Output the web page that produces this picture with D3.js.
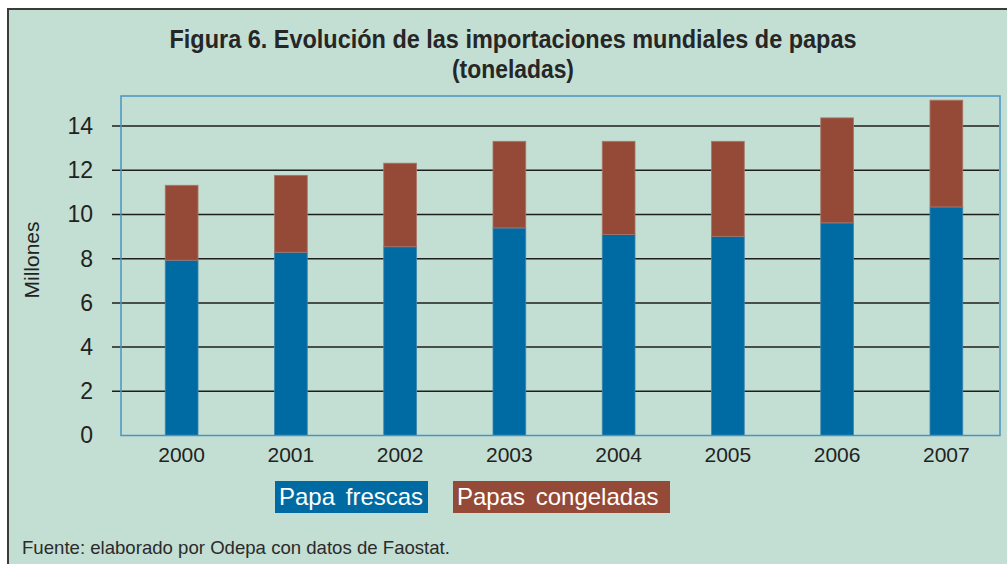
<!DOCTYPE html>
<html>
<head>
<meta charset="utf-8">
<script src="https://cdn.jsdelivr.net/npm/d3@7"></script>
<style>
  body { margin: 0; background: #fff; }
  svg { display: block; font-family: "Liberation Sans", Arial, sans-serif; }
</style>
</head>
<body>
<div id="chart"></div>
<script>
// Importaciones mundiales de papas, millones de toneladas
const years = ['2000', '2001', '2002', '2003', '2004', '2005', '2006', '2007'];
const frescas = [7.93, 8.29, 8.54, 9.39, 9.09, 9.01, 9.62, 10.34];
const congeladas = [3.39, 3.48, 3.78, 3.92, 4.22, 4.30, 4.75, 4.83];
const yTicks = [0, 2, 4, 6, 8, 10, 12, 14];
const seriesNames = ['Papa frescas', 'Papas congeladas'];

const W = 1007, H = 564;
const colors = ['#006ba3', '#954a38'];
const bg = '#c3ded3';

const svg = d3.select('#chart').append('svg')
    .attr('width', W)
    .attr('height', H);

// panel de fondo con borde superior/izquierdo
svg.append('rect')
    .attr('x', 8).attr('y', 9)
    .attr('width', W - 8).attr('height', H - 9)
    .attr('fill', bg);
svg.append('path')
    .attr('d', `M8,${H} V9 H${W}`)
    .attr('fill', 'none')
    .attr('stroke', '#3b3b3b')
    .attr('stroke-width', 2);

// titulo (fuente estrecha simulada con textLength)
const titleLines = [
    {text: 'Figura 6. Evolución de las importaciones mundiales de papas', y: 48, len: 687},
    {text: '(toneladas)', y: 78, len: 122}
];
svg.append('g')
    .selectAll('text')
    .data(titleLines)
    .join('text')
    .attr('x', 513)
    .attr('y', d => d.y)
    .attr('text-anchor', 'middle')
    .attr('font-weight', 'bold')
    .attr('font-size', 25.5)
    .attr('fill', '#262626')
    .attr('textLength', d => d.len)
    .attr('lengthAdjust', 'spacingAndGlyphs')
    .text(d => d.text);

const plot = {left: 121, right: 1000, top: 96, bottom: 435.5};

const x = d3.scaleBand()
    .domain(years)
    .range([127, 1001])
    .paddingInner(0.7)
    .paddingOuter(0.35);

const y = d3.scaleLinear()
    .domain([0, 15.36])
    .range([plot.bottom, plot.top]);

// lineas de grilla (se extienden a la izquierda del area)
svg.append('g')
    .selectAll('line')
    .data(yTicks.filter(d => d > 0))
    .join('line')
    .attr('x1', 112).attr('x2', plot.right - 1)
    .attr('y1', d => y(d)).attr('y2', d => y(d))
    .attr('stroke', '#1e1e1e')
    .attr('stroke-width', 1.5);

// eje y
const yAxis = svg.append('g')
    .attr('transform', `translate(${plot.left},0)`)
    .call(d3.axisLeft(y).tickValues(yTicks).tickSize(0).tickPadding(28));
yAxis.select('.domain').remove();
yAxis.selectAll('text')
    .attr('font-size', 23)
    .attr('font-family', '"Liberation Sans", Arial, sans-serif')
    .attr('fill', '#222');

svg.append('text')
    .attr('transform', 'translate(39,260) rotate(-90)')
    .attr('text-anchor', 'middle')
    .attr('font-size', 21)
    .attr('fill', '#222')
    .text('Millones');

// barras apiladas
const stackData = years.map((yr, i) => ({year: yr, frescas: frescas[i], congeladas: congeladas[i]}));
const stack = d3.stack().keys(['frescas', 'congeladas'])(stackData);

svg.append('g')
    .selectAll('g')
    .data(stack)
    .join('g')
    .attr('fill', (d, i) => colors[i])
    .attr('stroke', (d, i) => i === 0 ? '#3f86b0' : '#a8766a')
    .attr('stroke-width', 0.8)
    .selectAll('rect')
    .data(d => d)
    .join('rect')
    .attr('x', d => x(d.data.year))
    .attr('width', x.bandwidth())
    .attr('y', d => y(d[1]))
    .attr('height', d => y(d[0]) - y(d[1]));

// borde del area de trazado
svg.append('rect')
    .attr('x', plot.left).attr('y', plot.top)
    .attr('width', plot.right - plot.left)
    .attr('height', plot.bottom - plot.top)
    .attr('fill', 'none')
    .attr('stroke', '#4a94c2')
    .attr('stroke-width', 1.5);

// eje x
const xAxis = svg.append('g')
    .attr('transform', `translate(0,${plot.bottom})`)
    .call(d3.axisBottom(x).tickSize(0).tickPadding(12));
xAxis.select('.domain').remove();
xAxis.selectAll('text')
    .attr('font-size', 21)
    .attr('font-family', '"Liberation Sans", Arial, sans-serif')
    .attr('fill', '#222');

// leyenda
const legendItems = [
    {name: seriesNames[0], x: 275, w: 153},
    {name: seriesNames[1], x: 453, w: 217}
];
const legend = svg.append('g')
    .selectAll('g')
    .data(legendItems)
    .join('g')
    .attr('transform', d => `translate(${d.x},481)`);
legend.append('rect')
    .attr('width', d => d.w)
    .attr('height', 32)
    .attr('fill', (d, i) => colors[i]);
legend.append('text')
    .attr('x', 4)
    .attr('y', 24)
    .attr('font-size', 24)
    .attr('word-spacing', 4)
    .attr('fill', '#fff')
    .text(d => d.name);

// fuente
svg.append('text')
    .attr('x', 22)
    .attr('y', 554)
    .attr('font-size', 18.6)
    .attr('fill', '#2b2b2b')
    .text('Fuente: elaborado por Odepa con datos de Faostat.');
</script>
</body>
</html>
